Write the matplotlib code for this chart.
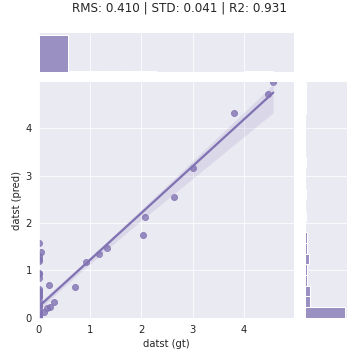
import numpy as np
import pandas as pd
import seaborn as sns
import matplotlib
matplotlib.use("Agg")
import matplotlib.pyplot as plt

gt_main = [4.57, 4.47, 3.81, 3.00, 2.63, 2.07, 2.03, 1.32, 1.18, 0.91,
           0.70, 0.19, 0.29, 0.21, 0.16, 0.10, 0.04]
pred_main = [4.97, 4.72, 4.33, 3.17, 2.55, 2.13, 1.75, 1.47, 1.34, 1.17,
             0.66, 0.70, 0.34, 0.24, 0.21, 0.13, 1.40]

# points stacked on gt = 0
pred_zero = [1.59, 1.30, 1.25, 1.20, 0.95, 0.93, 0.85, 0.60, 0.57, 0.55,
             0.50, 0.47, 0.45, 0.35, 0.30, 0.26,
             0.20, 0.19, 0.18, 0.17, 0.16, 0.15, 0.14, 0.13, 0.12, 0.11,
             0.10, 0.10, 0.09, 0.09, 0.08, 0.08, 0.07, 0.07, 0.06, 0.06,
             0.05, 0.05, 0.05, 0.04, 0.04, 0.04, 0.03, 0.03, 0.03, 0.02,
             0.02, 0.02, 0.01, 0.01, 0.01, 0.00, 0.00, 0.00, 0.00, 0.00,
             0.00, 0.00, 0.00, 0.00, 0.00, 0.00]

title = "RMS: 0.410 | STD: 0.041 | R2: 0.931"

df = pd.DataFrame({
    "datst (gt)": gt_main + [0.0] * len(pred_zero),
    "datst (pred)": pred_main + pred_zero,
})

sns.set_style("darkgrid")
sns.set_color_codes()

lim = (0, df["datst (pred)"].max())
g = sns.JointGrid(data=df, x="datst (gt)", y="datst (pred)", height=5,
                  xlim=lim, ylim=lim)
g.plot_joint(sns.regplot, color="m", seed=0)
sns.histplot(data=df, x="datst (gt)", bins=8, color="m", ax=g.ax_marg_x)
sns.histplot(data=df, y="datst (pred)", bins=22, color="m", ax=g.ax_marg_y)

g.fig.suptitle(title, y=0.995)
g.fig.subplots_adjust(left=0.108, right=0.964, bottom=0.117, top=0.908,
                      wspace=0.27, hspace=0.26)
g.fig.savefig("out.png", dpi=72)
